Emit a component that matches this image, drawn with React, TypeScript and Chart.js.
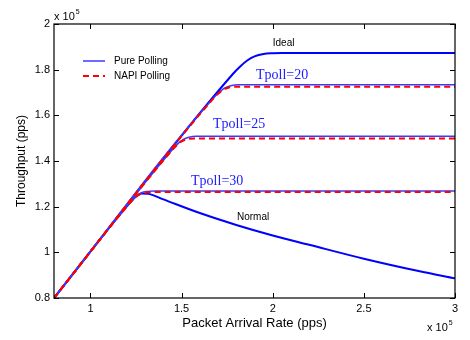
import React, { useEffect, useRef } from "react";
import { Chart, registerables } from "chart.js";

Chart.register(...registerables);

// ---------- data (units of 1e5 pps) ----------
const xTicks = [1, 1.5, 2, 2.5, 3];
const xTickLabels = ["1", "1.5", "2", "2.5", "3"];
const yTicks = [0.8, 1, 1.2, 1.4, 1.6, 1.8, 2];
const yTickLabels = ["0.8", "1", "1.2", "1.4", "1.6", "1.8", "2"];

const idealX = [0.8, 1.78, 1.82, 1.86, 1.9, 1.95, 2.0, 2.05, 3.0];
const idealY = [0.8, 1.78, 1.813, 1.84, 1.858, 1.869, 1.872, 1.873, 1.873];

const pure20X = [0.8, 1.68, 1.71, 1.74, 1.77, 1.81, 3.0];
const pure20Y = [0.8, 1.68, 1.703, 1.721, 1.73, 1.734, 1.734];
const napi20X = [0.8, 1.67, 1.7, 1.73, 1.76, 1.8, 3.0];
const napi20Y = [0.8, 1.67, 1.695, 1.713, 1.722, 1.725, 1.725];

const pure25X = [0.8, 1.45, 1.48, 1.51, 1.54, 1.58, 3.0];
const pure25Y = [0.8, 1.45, 1.476, 1.495, 1.504, 1.508, 1.508];
const napi25X = [0.8, 1.44, 1.47, 1.5, 1.53, 1.57, 3.0];
const napi25Y = [0.8, 1.44, 1.466, 1.486, 1.495, 1.499, 1.499];

const pure30X = [0.8, 1.22, 1.25, 1.28, 1.31, 1.35, 3.0];
const pure30Y = [0.8, 1.22, 1.245, 1.261, 1.267, 1.269, 1.269];
const napi30X = [0.8, 1.21, 1.24, 1.27, 1.3, 1.34, 3.0];
const napi30Y = [0.8, 1.21, 1.236, 1.254, 1.261, 1.264, 1.264];

const normalX = [0.8, 1.22, 1.25, 1.28, 1.32, 1.4, 1.6, 1.8, 2.0, 2.2, 2.5, 2.8, 3.0];
const normalY = [0.8, 1.22, 1.245, 1.258, 1.256, 1.232, 1.172, 1.12, 1.074, 1.033, 0.972, 0.918, 0.886];

// annotation texts and their data anchors
const annoTexts = ["Ideal", "Tpoll=20", "Tpoll=25", "Tpoll=30", "Normal"];
const annoX = [2.0, 1.908, 1.672, 1.552, 1.804];
const annoY = [1.917, 1.777, 1.562, 1.312, 1.155];
const annoSerif = [false, true, true, true, false];

const legendLabels = ["Pure Polling", "NAPI Polling"];

const zip = (xs: number[], ys: number[]) => xs.map((x, i) => ({ x, y: ys[i] }));

const SANS = "'Liberation Sans', Arial, Helvetica, sans-serif";
const SERIF = "'Liberation Serif', 'Times New Roman', serif";
const BLUE = "#0000ff";
const LIGHTBLUE = "#3a3aff";
const RED = "#ff0000";

const decor = {
  id: "decor",
  afterDraw(chart: any) {
    const ctx = chart.ctx as CanvasRenderingContext2D;
    const { left, right, top, bottom } = chart.chartArea;
    const xs = chart.scales.x;
    const ys = chart.scales.y;
    ctx.save();
    // frame
    ctx.strokeStyle = "#000";
    ctx.lineWidth = 1.2;
    ctx.strokeRect(left, top, right - left, bottom - top);
    // inward ticks
    ctx.lineWidth = 1;
    const tl = 5;
    ctx.beginPath();
    xTicks.forEach((v) => {
      const p = Math.round(xs.getPixelForValue(v)) + 0.5;
      ctx.moveTo(p, bottom);
      ctx.lineTo(p, bottom - tl);
      ctx.moveTo(p, top);
      ctx.lineTo(p, top + tl);
    });
    yTicks.forEach((v) => {
      const p = Math.round(ys.getPixelForValue(v)) + 0.5;
      ctx.moveTo(left, p);
      ctx.lineTo(left + tl, p);
      ctx.moveTo(right, p);
      ctx.lineTo(right - tl, p);
    });
    ctx.stroke();

    // exponent labels
    ctx.fillStyle = "#000";
    ctx.textBaseline = "alphabetic";
    ctx.textAlign = "left";
    ctx.font = `11px ${SANS}`;
    ctx.fillText("x 10", left, top - 4);
    let w = ctx.measureText("x 10").width;
    ctx.font = `7px ${SANS}`;
    ctx.fillText("5", left + w + 1, top - 10);
    ctx.font = `11px ${SANS}`;
    ctx.fillText("x 10", right - 28, bottom + 33);
    w = ctx.measureText("x 10").width;
    ctx.font = `7px ${SANS}`;
    ctx.fillText("5", right - 28 + w + 1, bottom + 27);

    // legend
    const lx0 = left + 29;
    const lx1 = left + 51;
    const ly = [top + 37, top + 52];
    ctx.lineWidth = 1.5;
    ctx.strokeStyle = LIGHTBLUE;
    ctx.beginPath();
    ctx.moveTo(lx0, ly[0]);
    ctx.lineTo(lx1, ly[0]);
    ctx.stroke();
    ctx.strokeStyle = RED;
    ctx.lineWidth = 2;
    ctx.setLineDash([6, 4]);
    ctx.beginPath();
    ctx.moveTo(lx0, ly[1]);
    ctx.lineTo(lx1, ly[1]);
    ctx.stroke();
    ctx.setLineDash([]);
    ctx.fillStyle = "#000";
    ctx.font = `10px ${SANS}`;
    ctx.textBaseline = "middle";
    legendLabels.forEach((t, i) => ctx.fillText(t, left + 60, ly[i]));

    // annotations
    annoTexts.forEach((t, i) => {
      const px = xs.getPixelForValue(annoX[i]);
      const py = ys.getPixelForValue(annoY[i]);
      if (annoSerif[i]) {
        ctx.font = `14px ${SERIF}`;
        ctx.fillStyle = "#2020ff";
      } else {
        ctx.font = `10px ${SANS}`;
        ctx.fillStyle = "#000";
      }
      ctx.fillText(t, px, py);
    });
    ctx.restore();
  },
};

export default function App() {
  const ref = useRef<HTMLCanvasElement | null>(null);
  useEffect(() => {
    if (!ref.current) return;
    const solid = (data: any, color: string, width: number, order: number) => ({
      data,
      borderColor: color,
      backgroundColor: color,
      borderWidth: width,
      pointRadius: 0,
      fill: false,
      cubicInterpolationMode: "monotone" as const,
      order,
    });
    const dashed = (data: any) => ({
      ...solid(data, RED, 2, 0),
      borderDash: [6, 4],
    });
    const chart = new Chart(ref.current, {
      type: "line",
      data: {
        datasets: [
          solid(zip(idealX, idealY), BLUE, 2, 2),
          solid(zip(normalX, normalY), BLUE, 2, 2),
          solid(zip(pure20X, pure20Y), LIGHTBLUE, 1.5, 1),
          solid(zip(pure25X, pure25Y), LIGHTBLUE, 1.5, 1),
          solid(zip(pure30X, pure30Y), LIGHTBLUE, 1.5, 1),
          dashed(zip(napi20X, napi20Y)),
          dashed(zip(napi25X, napi25Y)),
          dashed(zip(napi30X, napi30Y)),
        ],
      },
      options: {
        animation: false,
        responsive: false,
        devicePixelRatio: 1,
        layout: { padding: { top: 24, right: 15, left: 0, bottom: 0 } },
        plugins: { legend: { display: false }, tooltip: { enabled: false } },
        scales: {
          x: {
            type: "linear",
            min: 0.8,
            max: 3,
            grid: { display: false, drawTicks: false },
            border: { display: false },
            afterBuildTicks: (s: any) => {
              s.ticks = xTicks.map((v) => ({ value: v }));
            },
            afterFit: (s: any) => {
              s.height = 42;
            },
            ticks: {
              padding: 4,
              color: "#000",
              font: { family: SANS, size: 11 },
              maxRotation: 0,
              autoSkip: false,
              callback: (v: any) => {
                const i = xTicks.findIndex((t) => Math.abs(t - v) < 1e-6);
                return i >= 0 ? xTickLabels[i] : "";
              },
            },
            title: {
              display: true,
              text: "Packet Arrival Rate (pps)",
              color: "#000",
              font: { family: SANS, size: 13 },
              padding: { top: 0, bottom: 9 },
            },
          },
          y: {
            type: "linear",
            min: 0.8,
            max: 2,
            grid: { display: false, drawTicks: false },
            border: { display: false },
            afterBuildTicks: (s: any) => {
              s.ticks = yTicks.map((v) => ({ value: v }));
            },
            afterFit: (s: any) => {
              s.width = 54;
            },
            ticks: {
              padding: 4,
              color: "#000",
              font: { family: SANS, size: 11 },
              autoSkip: false,
              callback: (v: any) => {
                const i = yTicks.findIndex((t) => Math.abs(t - v) < 1e-6);
                return i >= 0 ? yTickLabels[i] : "";
              },
            },
            title: {
              display: true,
              text: "Throughput (pps)",
              color: "#000",
              font: { family: SANS, size: 12 },
              padding: { top: 14, bottom: 0 },
            },
          },
        },
      },
      plugins: [decor],
    });
    return () => chart.destroy();
  }, []);
  return (
    <div style={{ position: "fixed", left: 0, top: 0, width: 470, height: 340, background: "#fff" }}>
      <canvas ref={ref} width={470} height={340} style={{ width: 470, height: 340, display: "block" }} />
    </div>
  );
}
